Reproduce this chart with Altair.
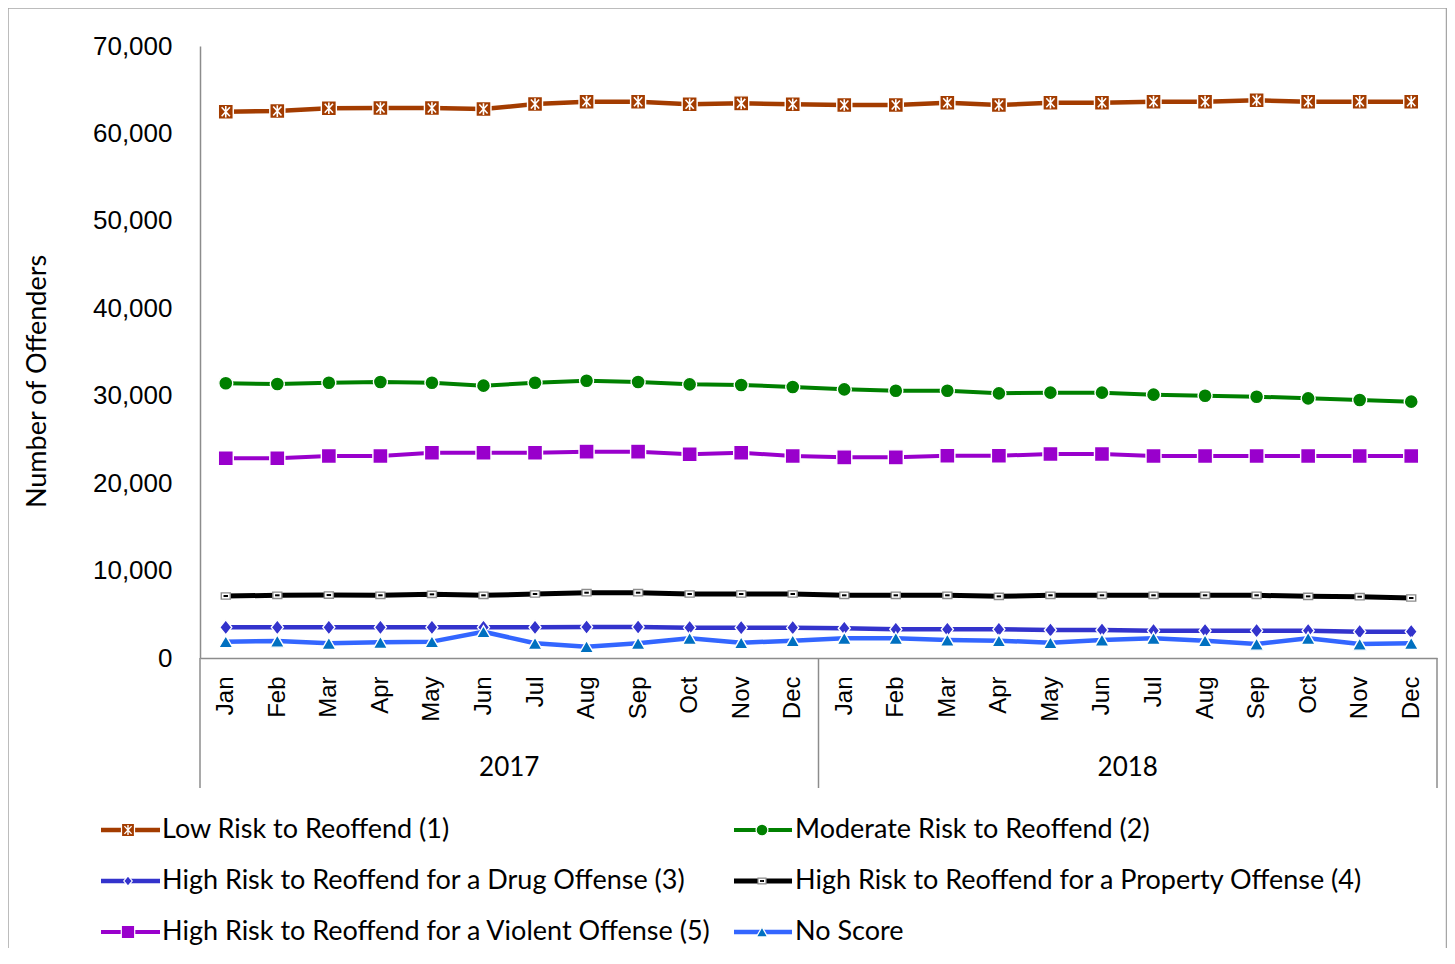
import altair as alt
import pandas as pd

# ---------------- data ----------------
month_names = ["Jan", "Feb", "Mar", "Apr", "May", "Jun", "Jul", "Aug", "Sep", "Oct", "Nov", "Dec"]
years = ["2017", "2018"]

series_names = [
    "Low Risk to Reoffend (1)",
    "Moderate Risk to Reoffend (2)",
    "High Risk to Reoffend for a Drug Offense (3)",
    "High Risk to Reoffend for a Property Offense (4)",
    "High Risk to Reoffend for a Violent Offense (5)",
    "No Score",
]

low_risk = [62480, 62560, 62880, 62900, 62900, 62790, 63360, 63630, 63630, 63330, 63440, 63330,
            63250, 63250, 63510, 63250, 63510, 63510, 63630, 63630, 63790, 63630, 63630, 63630]
moderate_risk = [31420, 31340, 31490, 31570, 31490, 31150, 31490, 31720, 31570, 31300, 31230, 31000,
                 30730, 30570, 30570, 30270, 30350, 30350, 30120, 30000, 29890, 29700, 29510, 29320]
drug_risk = [3510, 3510, 3510, 3510, 3510, 3510, 3510, 3550, 3550, 3470, 3470, 3470,
             3400, 3280, 3280, 3280, 3200, 3200, 3130, 3130, 3130, 3130, 3010, 3010]
property_risk = [7090, 7170, 7200, 7170, 7280, 7170, 7320, 7470, 7470, 7320, 7320, 7320,
                 7170, 7170, 7170, 7050, 7170, 7170, 7170, 7170, 7170, 7050, 7010, 6860]
violent_risk = [22840, 22840, 23100, 23100, 23480, 23480, 23480, 23600, 23600, 23300, 23480, 23100,
                22950, 22950, 23140, 23140, 23330, 23330, 23100, 23100, 23100, 23100, 23100, 23100]
no_score = [1870, 1940, 1680, 1790, 1870, 3010, 1680, 1300, 1680, 2250, 1750, 1980,
            2250, 2250, 2060, 1980, 1750, 2060, 2250, 1980, 1600, 2250, 1600, 1680]

values = [low_risk, moderate_risk, drug_risk, property_risk, violent_risk, no_score]

y_ticks = [0, 10000, 20000, 30000, 40000, 50000, 60000, 70000]

# ---------------- styles ----------------
line_colors = ["#A33C00", "#008000", "#3333CC", "#000000", "#9900CC", "#3366FF"]
marker_fill = ["#A33C00", "#008000", "#3333CC", "#FFFFFF", "#9900CC", "#0070C0"]
marker_stroke = ["#FFFFFF", "#FFFFFF", "#FFFFFF", "#8C8C8C", "#FFFFFF", "#FFFFFF"]
marker_shape = ["square", "circle", "M0,-1L0.8,0L0,1L-0.8,0Z", "M-1,-0.7H1V0.7H-1Z", "square", "triangle-up"]
marker_size = [225, 196, 225, 81, 225, 200]
legend_size = [169, 140, 110, 64, 180, 130]
line_width = [4.5, 4, 4.5, 5, 4, 4.5]

X_PATH = "M-0.55,-0.6L0.55,0.6M-0.55,0.6L0.55,-0.6M0,-0.78L0,0.78"
DASH_PATH = "M-0.5,0H0.5"

# ---------------- table ----------------
rows = []
n = len(years) * len(month_names)
for s, vals in zip(series_names, values):
    for i in range(n):
        rows.append({"series": s, "idx": i, "value": vals[i]})
df = pd.DataFrame(rows)

W, H = 1237, 612
x_scale = alt.Scale(domain=[-0.5, n - 0.5], nice=False, zero=False)
y_scale = alt.Scale(domain=[0, 70000], nice=False)

month_arr = "[" + ",".join("'%s'" % m for m in month_names) + "]"

x_axis = alt.Axis(
    values=list(range(n)),
    labelExpr=month_arr + "[datum.value % 12]",
    labelAngle=-90,
    labelFont="Liberation Sans",
    labelFontSize=24,
    labelColor="#000000",
    labelPadding=18,
    labelOverlap=False,
    labelFlush=False,
    labelBound=False,
    ticks=False,
    grid=False,
    domainColor="#8C8C8C",
    domainWidth=1.5,
    title=None,
)
y_axis = alt.Axis(
    values=y_ticks,
    labelExpr="format(datum.value, ',')",
    labelFont="Liberation Sans",
    labelFontSize=26,
    labelColor="#000000",
    labelPadding=28,
    ticks=False,
    grid=False,
    domainColor="#8C8C8C",
    domainWidth=1.5,
    title="Number of Offenders",
    titleFont="Lato",
    titleFontSize=27,
    titleFontWeight="normal",
    titleColor="#000000",
    titleX=-163,
    titleY=335,
    titleAngle=270,
    titleAlign="center",
    titleBaseline="middle",
)

base = alt.Chart(df)
layers = []

# border around the whole chart
border = alt.Chart(pd.DataFrame({"b": [0]})).mark_rect(
    fill=None, stroke="#A6A6A6", strokeWidth=1.5, clip=False
).encode(x=alt.value(-192), x2=alt.value(1246.5), y=alt.value(-38), y2=alt.value(H + 320))
layers.append(border)

for k, s in enumerate(series_names):
    filt = alt.datum.series == s
    enc_x = alt.X("idx:Q", scale=x_scale, axis=x_axis)
    enc_y = alt.Y("value:Q", scale=y_scale, axis=y_axis)
    line = base.transform_filter(filt).mark_line(
        color=line_colors[k], strokeWidth=line_width[k], strokeJoin="round"
    ).encode(x=enc_x, y=enc_y)
    pts = base.transform_filter(filt).mark_point(
        shape=marker_shape[k], filled=True, fill=marker_fill[k], stroke=marker_stroke[k],
        strokeWidth=1.4, size=marker_size[k], opacity=1
    ).encode(x=enc_x, y=enc_y)
    layers += [line, pts]
    if k == 0:
        layers.append(base.transform_filter(filt).mark_point(
            shape=X_PATH, filled=False, stroke="#FFFFFF", strokeWidth=1.6, size=marker_size[k], opacity=1
        ).encode(x=enc_x, y=enc_y))
    if k == 3:
        layers.append(base.transform_filter(filt).mark_point(
            shape=DASH_PATH, filled=False, stroke="#000000", strokeWidth=2, size=marker_size[k], opacity=1
        ).encode(x=enc_x, y=enc_y))

# year group labels and separators
year_df = pd.DataFrame({"year": years, "mid": [i * 12 + 5.5 for i in range(len(years))]})
sep_df = pd.DataFrame({"pos": [i * 12 - 0.5 for i in range(len(years) + 1)]})
layers.append(alt.Chart(sep_df).mark_rule(color="#8C8C8C", strokeWidth=1.5).encode(
    x=alt.X("pos:Q", scale=x_scale), y=alt.value(H), y2=alt.value(742)))
layers.append(alt.Chart(year_df).mark_text(
    font="Lato", fontSize=26, color="#000000", baseline="middle", align="center"
).encode(x=alt.X("mid:Q", scale=x_scale), y=alt.value(722), text="year:N"))

# manual legend (line + marker + label)
leg_cols = [(-99, -40, -72, -38), (534, 592, 562, 595)]
leg_rows = [784, 835, 886]
for k, s in enumerate(series_names):
    c = leg_cols[k % 2]
    r = leg_rows[k // 2]
    one = pd.DataFrame({"series": [s]})
    layers.append(alt.Chart(one).mark_rule(color=line_colors[k], strokeWidth=line_width[k]).encode(
        x=alt.value(c[0]), x2=alt.value(c[1]), y=alt.value(r)))
    layers.append(alt.Chart(one).mark_point(
        shape=marker_shape[k], filled=True, fill=marker_fill[k], stroke=marker_stroke[k],
        strokeWidth=1.2, size=legend_size[k], opacity=1
    ).encode(x=alt.value(c[2]), y=alt.value(r)))
    if k == 0:
        layers.append(alt.Chart(one).mark_point(
            shape=X_PATH, filled=False, stroke="#FFFFFF", strokeWidth=1.4, size=legend_size[k], opacity=1
        ).encode(x=alt.value(c[2]), y=alt.value(r)))
    if k == 3:
        layers.append(alt.Chart(one).mark_point(
            shape=DASH_PATH, filled=False, stroke="#000000", strokeWidth=1.8, size=legend_size[k], opacity=1
        ).encode(x=alt.value(c[2]), y=alt.value(r)))
    layers.append(alt.Chart(one).mark_text(
        font="Lato", fontSize=27, color="#000000", align="left", baseline="middle"
    ).encode(x=alt.value(c[3]), y=alt.value(r), text="series:N"))

chart = alt.layer(*layers).properties(
    width=W, height=H,
    autosize=alt.AutoSizeParams(type="none"),
    padding={"left": 192, "top": 38, "right": 10, "bottom": 290},
    background="#FFFFFF",
).configure_view(stroke=None)

chart.save("out.html", embed_options={"renderer": "svg", "actions": False})
